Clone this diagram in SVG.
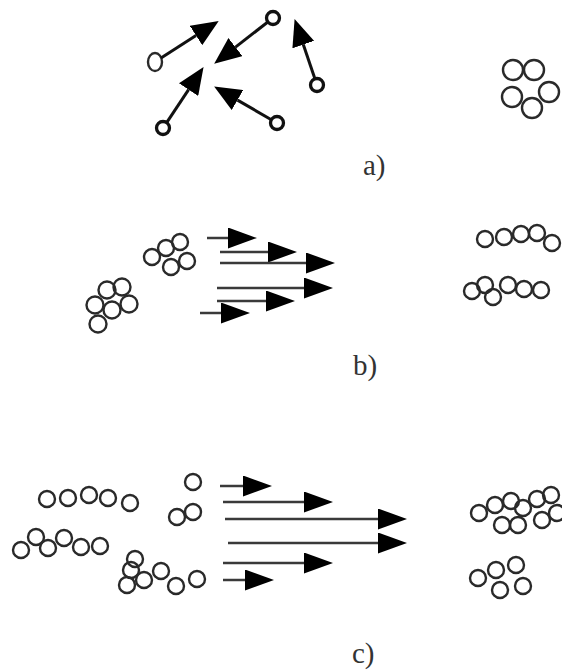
<svg xmlns="http://www.w3.org/2000/svg" width="562" height="670" viewBox="0 0 562 670">
<style>
.ring{fill:none;stroke:#2a2a2a;stroke-width:2.4}
.dot{fill:none;stroke:#111;stroke-width:3.3}
.thick{stroke:#111;stroke-width:3;fill:none;marker-end:url(#headA)}
.thin{stroke:#3a3a3a;stroke-width:2.5;fill:none;marker-end:url(#headB)}
.lbl{font-family:"Liberation Serif","Times New Roman",serif;font-size:29px;fill:#333}
</style>
<defs>
<marker id="headA" markerUnits="userSpaceOnUse" viewBox="0 -11.5 27 23" refX="0" refY="0" markerWidth="27" markerHeight="23" orient="auto">
<path d="M0,-11.5 L27,0 L0,11.5 z" fill="#000"/>
</marker>
<marker id="headB" markerUnits="userSpaceOnUse" viewBox="0 -10.5 29 21" refX="0" refY="0" markerWidth="29" markerHeight="21" orient="auto">
<path d="M0,-10.5 L29,0 L0,10.5 z" fill="#000"/>
</marker>
</defs>
<rect width="562" height="670" fill="#fff"/>

<g id="panel-a">
<ellipse cx="155" cy="62" rx="7" ry="9" class="ring"/>
<circle cx="273" cy="18" r="6.5" class="dot"/>
<circle cx="317" cy="85" r="6.5" class="dot"/>
<circle cx="163" cy="128" r="6.5" class="dot"/>
<circle cx="277" cy="123" r="6.5" class="dot"/>
<g id="cluster-a-right">
<circle cx="513" cy="70" r="10" class="ring"/>
<circle cx="534" cy="70" r="10" class="ring"/>
<circle cx="512" cy="97" r="10" class="ring"/>
<circle cx="532" cy="108" r="10" class="ring"/>
<circle cx="549" cy="92" r="10" class="ring"/>
</g>
<text x="363" y="175" class="lbl">a)</text>
</g>

<g id="panel-b">
<g id="cluster-b1">
<circle cx="152" cy="257" r="8" class="ring"/>
<circle cx="166" cy="248" r="8" class="ring"/>
<circle cx="180" cy="242" r="8" class="ring"/>
<circle cx="171" cy="267" r="8" class="ring"/>
<circle cx="187" cy="261" r="8" class="ring"/>
</g>
<g id="cluster-b2">
<circle cx="107" cy="290" r="8.5" class="ring"/>
<circle cx="122" cy="287" r="8.5" class="ring"/>
<circle cx="95" cy="305" r="8.5" class="ring"/>
<circle cx="112" cy="310" r="8.5" class="ring"/>
<circle cx="129" cy="304" r="8.5" class="ring"/>
<circle cx="98" cy="324" r="8.5" class="ring"/>
</g>
<g id="cluster-b3">
<circle cx="485" cy="239" r="8" class="ring"/>
<circle cx="504" cy="237" r="8" class="ring"/>
<circle cx="521" cy="234" r="8" class="ring"/>
<circle cx="537" cy="233" r="8" class="ring"/>
<circle cx="552" cy="243" r="8" class="ring"/>
</g>
<g id="cluster-b4">
<circle cx="472" cy="291" r="8" class="ring"/>
<circle cx="485" cy="285" r="8" class="ring"/>
<circle cx="493" cy="297" r="8" class="ring"/>
<circle cx="508" cy="285" r="8" class="ring"/>
<circle cx="524" cy="289" r="8" class="ring"/>
<circle cx="541" cy="290" r="8" class="ring"/>
</g>
<text x="353" y="375" class="lbl">b)</text>
</g>

<g id="panel-c">
<g id="cluster-c1">
<circle cx="47" cy="499" r="8" class="ring"/>
<circle cx="68" cy="498" r="8" class="ring"/>
<circle cx="89" cy="495" r="8" class="ring"/>
<circle cx="108" cy="498" r="8" class="ring"/>
<circle cx="130" cy="503" r="8" class="ring"/>
</g>
<g id="cluster-c2">
<circle cx="21" cy="550" r="8" class="ring"/>
<circle cx="36" cy="537" r="8" class="ring"/>
<circle cx="48" cy="548" r="8" class="ring"/>
<circle cx="64" cy="538" r="8" class="ring"/>
<circle cx="81" cy="547" r="8" class="ring"/>
<circle cx="100" cy="546" r="8" class="ring"/>
</g>
<g id="cluster-c3">
<circle cx="193" cy="482" r="8" class="ring"/>
<circle cx="177" cy="517" r="8" class="ring"/>
<circle cx="193" cy="512" r="8" class="ring"/>
</g>
<g id="cluster-c4">
<circle cx="135" cy="559" r="8" class="ring"/>
<circle cx="131" cy="570" r="8" class="ring"/>
<circle cx="127" cy="585" r="8" class="ring"/>
<circle cx="144" cy="580" r="8" class="ring"/>
<circle cx="161" cy="571" r="8" class="ring"/>
<circle cx="176" cy="586" r="8" class="ring"/>
<circle cx="197" cy="579" r="8" class="ring"/>
</g>
<g id="cluster-c5">
<circle cx="479" cy="513" r="8" class="ring"/>
<circle cx="495" cy="505" r="8" class="ring"/>
<circle cx="511" cy="501" r="8" class="ring"/>
<circle cx="523" cy="508" r="8" class="ring"/>
<circle cx="537" cy="499" r="8" class="ring"/>
<circle cx="551" cy="495" r="8" class="ring"/>
<circle cx="557" cy="513" r="8" class="ring"/>
<circle cx="542" cy="520" r="8" class="ring"/>
<circle cx="518" cy="525" r="8" class="ring"/>
<circle cx="502" cy="525" r="8" class="ring"/>
</g>
<g id="cluster-c6">
<circle cx="478" cy="578" r="8" class="ring"/>
<circle cx="496" cy="570" r="8" class="ring"/>
<circle cx="516" cy="565" r="8" class="ring"/>
<circle cx="500" cy="590" r="8" class="ring"/>
<circle cx="523" cy="586" r="8" class="ring"/>
</g>
<text x="352" y="663" class="lbl">c)</text>
</g>

<g id="connectors">
<line x1="161" y1="58" x2="196" y2="35.5" class="thick"/>
<line x1="267.5" y1="22.3" x2="235.5" y2="47.1" class="thick"/>
<line x1="315" y1="79" x2="303.3" y2="44.6" class="thick"/>
<line x1="166.5" y1="122.8" x2="188.6" y2="89.6" class="thick"/>
<line x1="271.8" y1="120" x2="237.5" y2="100.1" class="thick"/>

<line x1="207" y1="238" x2="228" y2="238" class="thin"/>
<line x1="220" y1="252" x2="268" y2="252" class="thin"/>
<line x1="220" y1="263" x2="306" y2="263" class="thin"/>
<line x1="217" y1="288" x2="304" y2="288" class="thin"/>
<line x1="217" y1="301" x2="266" y2="301" class="thin"/>
<line x1="200" y1="313" x2="221" y2="313" class="thin"/>

<line x1="220" y1="486" x2="243" y2="486" class="thin"/>
<line x1="223" y1="502" x2="304" y2="502" class="thin"/>
<line x1="225" y1="519" x2="378" y2="519" class="thin"/>
<line x1="228" y1="543" x2="378" y2="543" class="thin"/>
<line x1="223" y1="563" x2="304" y2="563" class="thin"/>
<line x1="223" y1="580" x2="245" y2="580" class="thin"/>
</g>
</svg>
